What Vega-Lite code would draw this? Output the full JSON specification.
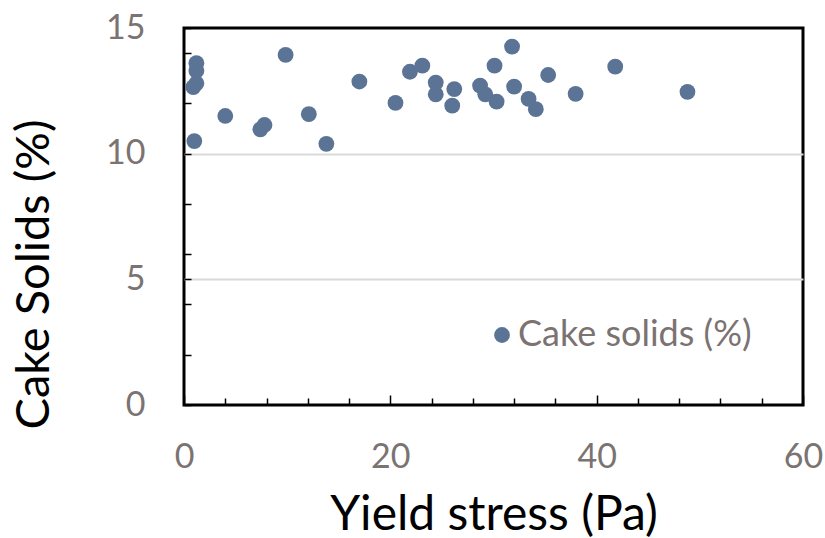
{
  "$schema": "https://vega.github.io/schema/vega-lite/v6.json",
  "width": 619,
  "height": 377,
  "autosize": "none",
  "padding": {"left": 184, "top": 28, "right": 22, "bottom": 133},
  "background": "white",
  "config": {
    "view": {"stroke": "black", "strokeWidth": 3},
    "font": "Lato"
  },
  "data": {
    "values": [
      {"stress": 1.2, "solids": 13.6, "series": "Cake solids (%)"},
      {"stress": 1.2, "solids": 13.3, "series": "Cake solids (%)"},
      {"stress": 1.2, "solids": 12.8, "series": "Cake solids (%)"},
      {"stress": 0.9, "solids": 12.65, "series": "Cake solids (%)"},
      {"stress": 1.0, "solids": 10.5, "series": "Cake solids (%)"},
      {"stress": 4.0, "solids": 11.5, "series": "Cake solids (%)"},
      {"stress": 7.4, "solids": 10.97, "series": "Cake solids (%)"},
      {"stress": 7.8, "solids": 11.14, "series": "Cake solids (%)"},
      {"stress": 9.85, "solids": 13.93, "series": "Cake solids (%)"},
      {"stress": 12.1, "solids": 11.57, "series": "Cake solids (%)"},
      {"stress": 13.8, "solids": 10.39, "series": "Cake solids (%)"},
      {"stress": 17.0, "solids": 12.87, "series": "Cake solids (%)"},
      {"stress": 20.5, "solids": 12.02, "series": "Cake solids (%)"},
      {"stress": 21.9, "solids": 13.26, "series": "Cake solids (%)"},
      {"stress": 23.1, "solids": 13.5, "series": "Cake solids (%)"},
      {"stress": 24.4, "solids": 12.83, "series": "Cake solids (%)"},
      {"stress": 24.4, "solids": 12.36, "series": "Cake solids (%)"},
      {"stress": 26.2, "solids": 12.57, "series": "Cake solids (%)"},
      {"stress": 26.0, "solids": 11.91, "series": "Cake solids (%)"},
      {"stress": 28.7, "solids": 12.71, "series": "Cake solids (%)"},
      {"stress": 29.2, "solids": 12.36, "series": "Cake solids (%)"},
      {"stress": 30.1, "solids": 13.5, "series": "Cake solids (%)"},
      {"stress": 30.3, "solids": 12.07, "series": "Cake solids (%)"},
      {"stress": 31.8, "solids": 14.26, "series": "Cake solids (%)"},
      {"stress": 32.0, "solids": 12.67, "series": "Cake solids (%)"},
      {"stress": 33.4, "solids": 12.18, "series": "Cake solids (%)"},
      {"stress": 34.1, "solids": 11.77, "series": "Cake solids (%)"},
      {"stress": 35.3, "solids": 13.13, "series": "Cake solids (%)"},
      {"stress": 37.96, "solids": 12.38, "series": "Cake solids (%)"},
      {"stress": 41.8, "solids": 13.46, "series": "Cake solids (%)"},
      {"stress": 48.8, "solids": 12.46, "series": "Cake solids (%)"}
    ]
  },
  "mark": {"type": "circle", "size": 250, "opacity": 1},
  "encoding": {
    "x": {
      "field": "stress",
      "type": "quantitative",
      "scale": {"domain": [0, 60], "nice": false},
      "axis": {
        "title": "Yield stress (Pa)",
        "values": [0, 4, 8, 12, 16, 20, 24, 28, 32, 36, 40, 44, 48, 52, 56, 60],
        "labelExpr": "datum.value % 20 === 0 ? datum.label : ''",
        "domain": false,
        "grid": false,
        "ticks": true,
        "tickColor": "black",
        "tickWidth": 1.5,
        "tickSize": {"condition": {"test": "datum.value % 20 === 0", "value": -10}, "value": -7},
        "labelFontSize": 34,
        "labelColor": "#7b7371",
        "labelPadding": 45,
        "labelFlush": false,
        "titleFontSize": 48,
        "titleFontWeight": "normal",
        "titleColor": "black",
        "titlePadding": 17
      }
    },
    "y": {
      "field": "solids",
      "type": "quantitative",
      "scale": {"domain": [0, 15], "nice": false},
      "axis": {
        "title": "Cake Solids (%)",
        "values": [0, 2, 4, 5, 6, 8, 10, 12, 14, 15],
        "labelExpr": "datum.value % 5 === 0 ? datum.label : ''",
        "domain": false,
        "grid": true,
        "gridColor": "#d9d9d9",
        "gridWidth": 2,
        "gridOpacity": {"condition": {"test": "datum.value === 5 || datum.value === 10", "value": 1}, "value": 0},
        "ticks": true,
        "tickColor": "black",
        "tickWidth": 1.5,
        "tickSize": -7,
        "labelFontSize": 34,
        "labelColor": "#7b7371",
        "labelPadding": 46,
        "labelFlush": false,
        "titleFontSize": 47,
        "titleFontWeight": "normal",
        "titleColor": "black",
        "titlePadding": 47,
        "titleY": 246
      }
    },
    "color": {
      "field": "series",
      "type": "nominal",
      "scale": {"range": ["#5b7496"]},
      "legend": {
        "title": null,
        "orient": "none",
        "legendX": 300,
        "legendY": 289,
        "symbolType": "circle",
        "symbolSize": 250,
        "symbolOpacity": 1,
        "labelFontSize": 36,
        "labelColor": "#7b7371",
        "labelOffset": -2,
        "labelLimit": 400
      }
    }
  }
}
